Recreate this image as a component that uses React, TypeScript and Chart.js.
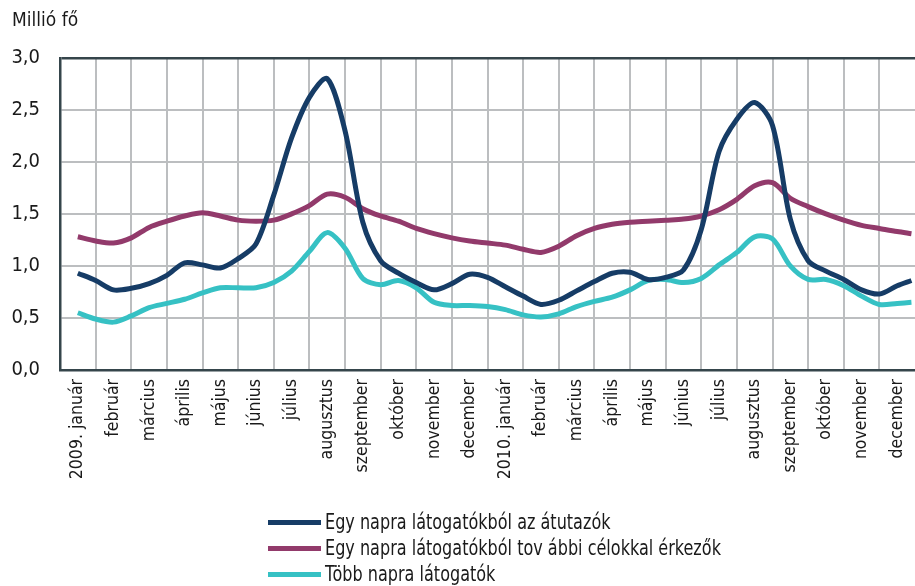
import React, { useEffect, useRef } from 'react';
import { Chart, registerables } from 'chart.js';
Chart.register(...registerables);

const FONT = '"Liberation Sans Narrow", "DejaVu Sans Condensed", "Arial Narrow", sans-serif';

const monthLabels = [
  '2009. január', 'február', 'március', 'április', 'május', 'június',
  'július', 'augusztus', 'szeptember', 'október', 'november', 'december',
  '2010. január', 'február', 'március', 'április', 'május', 'június',
  'július', 'augusztus', 'szeptember', 'október', 'november', 'december',
];

const yTicks = [0, 0.5, 1, 1.5, 2, 2.5, 3];

const transit = [0.93, 0.86, 0.77, 0.785, 0.83, 0.91, 1.03, 1.01, 0.98, 1.07, 1.21, 1.68, 2.23, 2.62, 2.8, 2.3, 1.42, 1.05, 0.93, 0.84, 0.77, 0.83, 0.92, 0.89, 0.8, 0.71, 0.63, 0.67, 0.76, 0.85, 0.93, 0.94, 0.87, 0.89, 0.96, 1.35, 2.1, 2.41, 2.57, 2.35, 1.45, 1.05, 0.95, 0.87, 0.77, 0.73, 0.81, 0.86];
const otherPurpose = [1.28, 1.24, 1.22, 1.27, 1.37, 1.43, 1.48, 1.51, 1.48, 1.44, 1.43, 1.44, 1.5, 1.58, 1.69, 1.66, 1.55, 1.48, 1.43, 1.36, 1.31, 1.27, 1.24, 1.22, 1.2, 1.16, 1.13, 1.19, 1.29, 1.36, 1.4, 1.42, 1.43, 1.44, 1.45, 1.48, 1.54, 1.64, 1.77, 1.8, 1.65, 1.57, 1.5, 1.44, 1.39, 1.36, 1.33, 1.31];
const multiDay = [0.55, 0.49, 0.46, 0.52, 0.6, 0.64, 0.68, 0.74, 0.79, 0.79, 0.79, 0.84, 0.95, 1.14, 1.32, 1.17, 0.88, 0.82, 0.86, 0.79, 0.65, 0.62, 0.62, 0.61, 0.58, 0.53, 0.51, 0.54, 0.61, 0.66, 0.7, 0.77, 0.86, 0.87, 0.84, 0.88, 1.01, 1.13, 1.28, 1.26, 1.0, 0.87, 0.87, 0.81, 0.71, 0.63, 0.64, 0.65];

const seriesNames = [
  'Egy napra látogatókból az átutazók',
  'Egy napra látogatókból tov ábbi célokkal érkezők',
  'Több napra látogatók',
];
const seriesColors = ['#163c66', '#923a6b', '#36c1c4'];

const GRID = '#bcbec0';
const AXIS = '#35454b';
const TEXT = '#1a1a1a';

export default function App() {
  const ref = useRef<HTMLCanvasElement>(null);
  useEffect(() => {
    document.body.style.margin = '0';
    const n = transit.length;
    const positions = transit.map((_, i) => (i === n - 1 ? 23.9 : 0.5 + i * 0.5));
    const mk = (vals: number[]) => vals.map((y, i) => ({ x: positions[i], y }));
    const all = [transit, otherPurpose, multiDay];
    const chart = new Chart(ref.current as HTMLCanvasElement, {
      type: 'line',
      data: {
        datasets: all.map((vals, i) => ({
          label: seriesNames[i],
          data: mk(vals),
          borderColor: seriesColors[i],
          backgroundColor: seriesColors[i],
          borderWidth: 5,
          pointRadius: 0,
          tension: 0.3,
          fill: false,
        })),
      },
      options: {
        animation: false,
        responsive: false,
        maintainAspectRatio: false,
        layout: { padding: { left: 12, right: 0, top: 0, bottom: 0 } },
        plugins: {
          legend: { display: false },
          tooltip: { enabled: false },
          title: {
            display: true,
            text: 'Millió fő',
            align: 'start',
            color: TEXT,
            font: { family: FONT, size: 19, weight: 'normal' },
            padding: { top: 10, bottom: 25 },
          },
        },
        scales: {
          x: {
            type: 'linear',
            min: 0,
            max: 24,
            afterBuildTicks: (s: any) => {
              const t: any[] = [];
              for (let k = 0; k <= 48; k++) t.push({ value: k / 2 });
              s.ticks = t;
            },
            afterFit: (s: any) => {
              s.height = 216;
              s.paddingLeft = 0;
              s.paddingRight = 0;
            },
            grid: {
              color: (c: any) => {
                const v = c.tick ? c.tick.value : 0;
                if (v === 0 || v === 24 || !Number.isInteger(v)) return 'rgba(0,0,0,0)';
                return GRID;
              },
              lineWidth: 2,
              drawTicks: false,
            },
            border: { color: AXIS, width: 2.5 },
            ticks: {
              autoSkip: false,
              maxRotation: 90,
              minRotation: 90,
              padding: 9,
              color: TEXT,
              font: { family: FONT, size: 17.5 },
              callback: (v: any) => {
                const num = Number(v);
                if (Number.isInteger(num)) return '';
                return monthLabels[Math.floor(num)] ?? '';
              },
            },
          },
          y: {
            min: 0,
            max: 3,
            afterBuildTicks: (s: any) => {
              s.ticks = yTicks.map((v) => ({ value: v }));
            },
            afterFit: (s: any) => {
              s.width = 48;
            },
            grid: {
              color: (c: any) => (c.tick && c.tick.value === 3 ? AXIS : GRID),
              lineWidth: (c: any) => (c.tick && c.tick.value === 3 ? 2.5 : 2),
              drawTicks: false,
            },
            border: { color: AXIS, width: 2.5 },
            ticks: {
              padding: 20,
              color: TEXT,
              font: { family: FONT, size: 20 },
              callback: (v: any) => Number(v).toFixed(1).replace('.', ','),
            },
          },
        },
      },
    } as any);
    return () => chart.destroy();
  }, []);

  const rowCenters = [522, 548, 574];
  return (
    <div style={{ position: 'relative', width: 915, height: 586, overflow: 'hidden', background: '#fff' }}>
      <canvas ref={ref} width={915} height={586} style={{ position: 'absolute', left: 0, top: 0, width: 915, height: 586 }} />
      {seriesNames.map((name, i) => (
        <React.Fragment key={name}>
          <div
            style={{
              position: 'absolute',
              left: 268,
              top: rowCenters[i] - 2.5,
              width: 53,
              height: 5,
              background: seriesColors[i],
            }}
          />
          <div
            style={{
              position: 'absolute',
              left: 325,
              top: rowCenters[i] - 13,
              height: 26,
              lineHeight: '26px',
              fontFamily: FONT,
              fontSize: 21,
              color: TEXT,
              whiteSpace: 'pre',
              transform: 'scaleX(0.85)',
              transformOrigin: 'left center',
            }}
          >
            {name}
          </div>
        </React.Fragment>
      ))}
    </div>
  );
}
